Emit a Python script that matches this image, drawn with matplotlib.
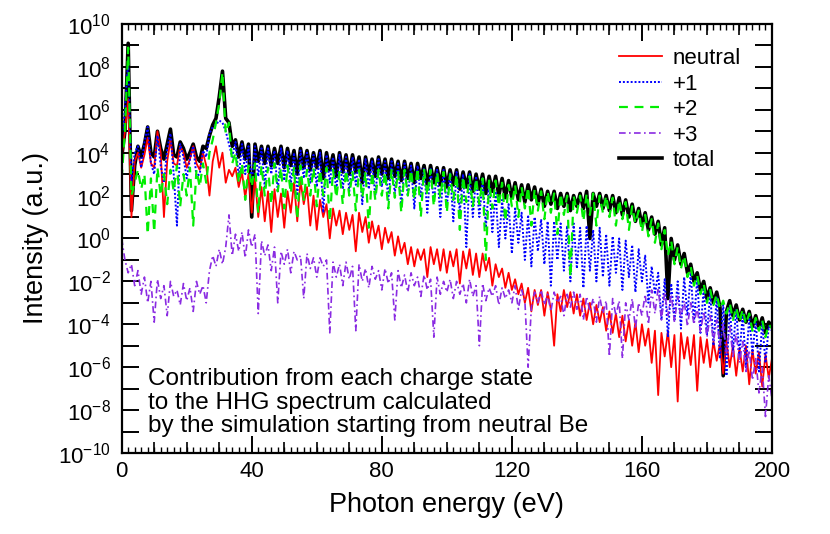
import numpy as np
import matplotlib.pyplot as plt
from matplotlib.ticker import FixedLocator, FuncFormatter, NullFormatter

plt.rcParams['font.family'] = ['Liberation Sans', 'DejaVu Sans']
plt.rcParams['mathtext.fontset'] = 'custom'
plt.rcParams['mathtext.rm'] = 'Liberation Sans'
plt.rcParams['mathtext.it'] = 'Liberation Sans:italic'
plt.rcParams['mathtext.bf'] = 'Liberation Sans:bold'

# photon energy grid (eV), one sample per eV
energy = np.arange(0, 201, 1)

# log10 of intensity (a.u.)
total_log = [
    3.8, 5.0, 9.1, 1.3, 3.4, 4.3, 3.8, 4.4, 5.2, 4.0,
    3.8, 5.0, 4.2, 3.7, 4.4, 5.1, 3.9, 3.8, 4.5, 4.2,
    3.7, 4.0, 4.4, 3.8, 3.6, 4.3, 4.2, 4.8, 5.3, 5.6,
    6.6, 7.8, 5.6, 5.4, 4.3, 4.6, 3.8, 4.5, 3.7, 4.4,
    1.0, 4.4, 3.6, 4.3, 3.5, 4.3, 3.4, 4.2, 3.5, 4.3,
    3.3, 4.2, 3.4, 4.1, 3.0, 4.2, 3.3, 4.1, 3.2, 4.0,
    3.3, 4.1, 2.8, 4.0, 3.2, 3.9, 2.9, 4.0, 3.1, 3.9,
    3.0, 3.9, 3.1, 3.8, 2.6, 3.8, 3.0, 3.7, 2.9, 3.8,
    3.0, 3.7, 2.8, 3.7, 2.9, 3.6, 2.7, 3.6, 2.8, 3.5,
    2.6, 3.5, 2.8, 3.4, 2.5, 3.4, 2.6, 3.3, 2.5, 3.3,
    2.4, 3.2, 2.5, 3.2, 2.3, 3.1, 2.4, 3.1, 2.2, 3.0,
    2.3, 3.0, 2.1, 2.9, 2.2, 2.9, 2.0, 2.8, 1.9, 2.7,
    1.9, 2.6, 1.8, 2.5, 1.7, 2.5, 1.8, 2.4, 1.6, 2.3,
    1.5, 2.2, 1.6, 2.2, 1.4, 2.1, 1.5, 2.1, 1.3, 2.0,
    1.5, 2.1, 1.4, 2.2, 0.0, 2.1, 1.5, 2.1, 1.4, 2.0,
    1.3, 2.0, 1.2, 1.9, 1.1, 1.8, 1.0, 1.6, 0.8, 1.4,
    0.6, 1.2, 0.4, 1.0, 0.2, 0.8, -0.3, 0.5, -2.8, 0.0,
    -1.0, -0.3, -1.2, -0.7, -1.6, -1.2, -2.0, -1.6, -2.4, -2.0,
    -2.8, -2.3, -3.0, -2.5, -3.2, -6.4, -3.4, -2.9, -3.6, -3.1,
    -3.8, -3.3, -3.9, -3.4, -4.1, -3.6, -4.2, -3.7, -4.4, -3.9,
    -4.1]

neutral_log = [
    3.8, 5.0, 6.5, 1.0, 3.6, 4.0, 3.3, 3.9, 4.7, 3.5,
    3.3, 5.0, 4.0, 1.0, 3.6, 4.6, 3.5, 3.4, 4.3, 4.0,
    3.3, 3.7, 4.3, 3.5, 3.2, 4.0, 3.4, 2.0, 3.6, 4.3,
    3.3, 4.0, 2.6, 3.2, 2.9, 3.3, 2.4, 3.1, 1.9, 3.0,
    1.2, 2.8, 1.0, 2.4, 0.8, 2.2, 0.3, 2.3, 1.0, 2.1,
    0.5, 2.2, 1.2, 2.6, 0.8, 2.7, 1.6, 2.4, 0.6, 2.0,
    0.4, 1.8, 1.0, 1.6, 0.0, 1.4, 0.6, 1.3, 0.2, 1.2,
    0.4, 1.1, -0.6, 1.2, 0.3, 1.0, -0.2, 0.8, 0.0, 0.6,
    -0.5, 0.5, -0.2, 0.3, -0.8, 0.1, -0.7, -0.2, -1.2, -0.4,
    -1.3, -0.5, -1.0, -0.5, -1.8, -0.4, -1.2, -0.5, -1.5, -0.5,
    -1.6, -0.6, -1.3, -0.5, -2.1, -0.6, -1.4, -0.5, -1.7, -0.7,
    -1.8, -0.7, -1.5, -0.9, -2.2, -1.2, -1.8, -1.4, -2.3, -1.6,
    -2.4, -1.9, -2.6, -2.1, -3.0, -2.3, -3.4, -2.4, -3.1, -2.4,
    -3.6, -2.5, -3.3, -5.0, -2.6, -3.4, -2.4, -3.2, -2.5, -3.5,
    -2.6, -3.6, -2.8, -3.8, -3.0, -4.0, -3.1, -3.9, -3.2, -4.3,
    -3.4, -4.4, -3.5, -4.6, -3.6, -4.8, -3.8, -5.0, -3.9, -5.3,
    -4.0, -5.0, -4.2, -5.8, -4.3, -7.3, -4.4, -5.5, -4.3, -6.0,
    -4.5, -7.6, -4.4, -5.6, -4.6, -5.9, -4.5, -7.1, -4.6, -5.8,
    -4.7, -6.0, -4.8, -5.7, -4.9, -6.3, -4.8, -6.0, -5.0, -6.4,
    -5.1, -6.2, -5.0, -6.8, -5.2, -6.3, -5.3, -6.9, -5.4, -6.5,
    -5.6]

plus1_log = [
    4.5, 6.0, 8.3, 2.6, 4.0, 4.3, 3.3, 4.5, 5.2, 3.5,
    3.0, 4.8, 3.4, 2.6, 4.2, 4.9, 3.0, 0.6, 4.4, 3.8,
    2.8, 3.7, 4.3, 2.9, 3.0, 4.1, 3.8, 4.9, 5.2, 5.3,
    5.5, 5.4, 5.0, 4.4, 3.8, 4.5, 2.8, 4.4, 3.0, 4.3,
    2.6, 4.3, 2.9, 4.2, 2.4, 4.2, 3.0, 4.1, 2.2, 4.2,
    2.7, 4.1, 2.5, 4.0, 2.0, 4.1, 2.8, 4.0, 2.6, 3.9,
    2.4, 4.0, 1.2, 3.9, 2.6, 3.8, 2.2, 3.9, 2.3, 3.8,
    2.2, 3.8, 2.5, 3.7, 1.6, 3.7, 2.3, 3.6, 2.0, 3.7,
    2.4, 3.6, 1.8, 3.6, 2.1, 3.5, 1.5, 3.5, 2.0, 3.4,
    1.4, 3.4, 1.9, 3.3, 1.2, 3.3, 1.7, 3.2, 1.0, 3.2,
    1.5, 3.1, 0.8, 3.1, 1.2, 3.0, -0.4, 3.0, 1.0, 2.9,
    1.0, 2.8, 0.5, 2.6, 0.3, 2.2, -0.4, 1.8, 0.0, 1.6,
    -0.7, 1.4, -0.2, 1.2, -1.0, 1.1, -1.3, 1.0, -0.6, 0.9,
    -1.2, 0.8, -2.2, 0.8, -1.0, 0.7, -1.5, 0.6, -2.0, 0.7,
    -1.4, 0.5, -2.3, 0.6, -1.5, 0.4, -2.0, 0.5, -1.8, 0.2,
    -2.2, 0.1, -1.6, 0.0, -2.4, -0.1, -1.8, -0.3, -2.5, -0.5,
    -2.0, -0.8, -3.0, -1.3, -2.6, -1.6, -3.8, -1.9, -4.6, -2.1,
    -3.8, -2.0, -4.2, -1.8, -3.6, -1.6, -3.9, -1.9, -4.4, -2.3,
    -4.5, -2.5, -5.0, -2.7, -5.6, -3.0, -6.4, -3.2, -5.2, -3.3,
    -5.5, -3.5, -6.0, -3.6, -5.4, -3.8, -6.2, -3.9, -5.8, -4.1,
    -4.3]

plus2_log = [
    2.8, 5.0, 8.9, 2.0, 2.6, 3.2, 2.3, 3.0, 0.2, 2.8,
    0.3, 3.3, 2.0, 3.0, 1.6, 3.2, 2.2, 3.4, 1.5, 3.0,
    2.0, 3.3, 0.6, 3.2, 2.4, 3.5, 2.6, 4.0, 4.6, 5.4,
    6.3, 7.75, 4.9, 5.4, 3.5, 4.0, 2.6, 3.5, 1.8, 3.4,
    2.4, 3.5, 1.2, 3.4, 2.0, 3.3, 1.6, 3.5, 2.2, 3.3,
    1.4, 3.4, 2.1, 3.3, 0.9, 3.4, 1.8, 3.2, 2.0, 3.3,
    1.5, 3.2, 2.0, 3.3, 0.8, 3.2, 1.9, 3.1, 1.6, 3.2,
    2.0, 3.1, 1.3, 3.2, 1.9, 3.1, 0.5, 3.1, 1.8, 3.2,
    2.0, 3.1, 1.4, 3.2, 1.9, 3.1, 1.2, 3.2, 2.0, 3.2,
    1.8, 3.3, 1.0, 3.2, 2.0, 3.2, 1.5, 3.1, 1.9, 3.1,
    1.2, 3.0, 1.8, 3.0, 0.4, 2.9, 1.7, 2.9, 1.5, 2.8,
    1.6, 2.8, -1.0, 2.7, 1.4, 2.7, 1.5, 2.6, 0.8, 2.5,
    1.5, 2.5, 1.0, 2.4, 1.4, 2.4, 0.6, 2.3, 1.3, 2.2,
    0.9, 2.2, 1.2, 2.1, 0.2, 2.1, 1.1, 2.0, -1.8, 2.0,
    1.2, 2.0, 0.8, 2.1, 1.1, 2.1, 0.6, 2.0, 1.2, 2.0,
    1.0, 1.9, 0.6, 1.8, 0.9, 1.7, 0.4, 1.5, 0.7, 1.3,
    0.3, 1.1, 0.1, 0.9, -0.2, 0.7, -0.5, 0.4, -0.8, -0.1,
    -1.2, -0.4, -1.4, -0.8, -1.8, -1.3, -2.2, -1.7, -2.6, -2.1,
    -3.0, -2.4, -3.1, -2.6, -3.3, -2.9, -3.5, -3.0, -3.8, -3.2,
    -3.9, -3.3, -4.0, -3.5, -4.3, -3.7, -4.3, -3.8, -4.6, -4.0,
    -4.2]

plus3_log = [
    0.0, -1.0, -1.6, -1.2, -2.2, -1.5, -2.6, -1.8, -3.0, -2.0,
    -3.9, -1.9, -2.8, -2.2, -3.6, -2.0, -2.7, -2.4, -3.1, -2.1,
    -2.9, -2.3, -3.4, -2.0, -2.6, -2.2, -3.0, -1.5, -0.8, -1.3,
    -0.5, -1.2, -0.4, 1.1, -0.8, 0.2, -0.6, 0.3, -0.9, 0.4,
    -0.4, 0.2, -3.5, -0.1, -0.8, -0.3, -1.5, -0.4, -3.0, -0.6,
    -1.2, -0.5, -1.6, -0.6, -1.0, -0.8, -2.8, -0.7, -1.4, -0.9,
    -1.8, -0.9, -1.3, -1.0, -4.4, -1.1, -1.8, -1.2, -2.2, -1.1,
    -1.9, -1.3, -4.3, -1.2, -2.0, -1.4, -2.3, -1.3, -1.9, -1.5,
    -2.4, -1.4, -2.1, -1.6, -3.8, -1.5, -2.3, -1.7, -2.5, -1.6,
    -2.2, -1.8, -2.7, -1.7, -2.4, -1.9, -4.6, -1.8, -2.6, -2.0,
    -2.5, -1.9, -2.8, -2.0, -2.6, -2.1, -3.0, -1.9, -2.7, -2.2,
    -5.0, -2.1, -2.9, -2.3, -2.7, -2.2, -3.1, -2.3, -2.8, -2.4,
    -3.0, -2.2, -3.3, -2.4, -2.9, -6.0, -3.2, -2.5, -3.0, -2.4,
    -3.1, -2.6, -3.4, -2.5, -3.0, -2.7, -3.6, -2.6, -3.2, -2.5,
    -3.3, -2.6, -3.8, -2.7, -3.4, -2.8, -3.9, -2.7, -3.5, -2.9,
    -5.5, -2.8, -3.6, -2.9, -5.6, -3.0, -3.8, -2.8, -4.2, -3.0,
    -3.6, -2.6, -4.0, -2.4, -3.5, -2.3, -3.8, -2.5, -3.6, -2.6,
    -3.9, -2.7, -3.7, -2.9, -4.1, -3.0, -4.0, -3.2, -4.4, -3.4,
    -4.6, -3.6, -4.8, -3.8, -5.0, -4.0, -5.3, -4.1, -5.5, -4.4,
    -5.8, -4.8, -6.2, -5.2, -6.6, -5.6, -7.2, -6.0, -8.3, -6.4,
    -7.5]

for s in (total_log, neutral_log, plus1_log, plus2_log, plus3_log):
    assert len(s) == len(energy), len(s)

fig = plt.figure(figsize=(8.3, 5.34), dpi=100)
ax = fig.add_axes([0.1466, 0.1517, 0.7835, 0.8034])

h_tot, = ax.plot(energy, 10.0 ** np.array(total_log), color='black', lw=2.6, label='total')
h_n, = ax.plot(energy, 10.0 ** np.array(neutral_log), color='#ff0000', lw=1.3, label='neutral')
h_1, = ax.plot(energy, 10.0 ** np.array(plus1_log), color='#0000ff', lw=1.4,
               linestyle=(0, (1, 1)), label='+1')
h_2, = ax.plot(energy, 10.0 ** np.array(plus2_log), color='#00ee00', lw=1.6,
               linestyle=(0, (4, 3)), label='+2')
h_3, = ax.plot(energy, 10.0 ** np.array(plus3_log), color='#8a2be2', lw=1.2,
               linestyle=(0, (4, 2, 1, 2)), label='+3')

ax.set_yscale('log')
ax.set_xlim(0, 200)
ax.set_ylim(1e-10, 1e10)

# y ticks every decade, labels on even exponents
ax.yaxis.set_major_locator(FixedLocator([10.0 ** k for k in range(-10, 11)]))
ax.yaxis.set_minor_locator(FixedLocator([]))


def ylab(v, pos):
    k = int(round(np.log10(v)))
    if k % 2:
        return ''
    return r'$\mathregular{10^{%d}}$' % k


ax.yaxis.set_major_formatter(FuncFormatter(ylab))
ax.tick_params(axis='y', which='major', direction='in', length=12, width=1.4,
               right=True, labelsize=16, pad=8)

ax.set_xticks([0, 40, 80, 120, 160, 200])
ax.xaxis.set_minor_locator(FixedLocator(np.arange(0, 201, 2)))
ax.tick_params(axis='x', which='major', direction='in', length=12, width=1.4,
               top=True, labelsize=16, pad=6)
ax.tick_params(axis='x', which='minor', direction='in', length=4, width=1.0, top=True)

# medium ticks every 10 eV
for side in ('bottom', 'top'):
    sec = ax.secondary_xaxis(side)
    sec.set_xticks([e for e in range(10, 200, 10) if e % 40])
    sec.xaxis.set_major_formatter(NullFormatter())
    sec.tick_params(direction='in', length=8, width=1.2)
    sec.spines[side].set_visible(False)

for sp in ax.spines.values():
    sp.set_linewidth(1.6)

ax.set_xlabel('Photon energy (eV)', fontsize=19.5, labelpad=7)
ax.set_ylabel('Intensity (a.u.)', fontsize=19.5, labelpad=6)

ax.legend([h_n, h_1, h_2, h_3, h_tot], ['neutral', '+1', '+2', '+3', 'total'],
          loc='upper right', bbox_to_anchor=(0.983, 0.99), frameon=False,
          fontsize=16, handlelength=1.9, handletextpad=0.5, labelspacing=0.2)

ax.text(0.04, 0.197, 'Contribution from each charge state\nto the HHG spectrum calculated\n'
        'by the simulation starting from neutral Be',
        transform=ax.transAxes, fontsize=17.5, va='top', ha='left', linespacing=1.08)

fig.savefig('out.png', dpi=100)
